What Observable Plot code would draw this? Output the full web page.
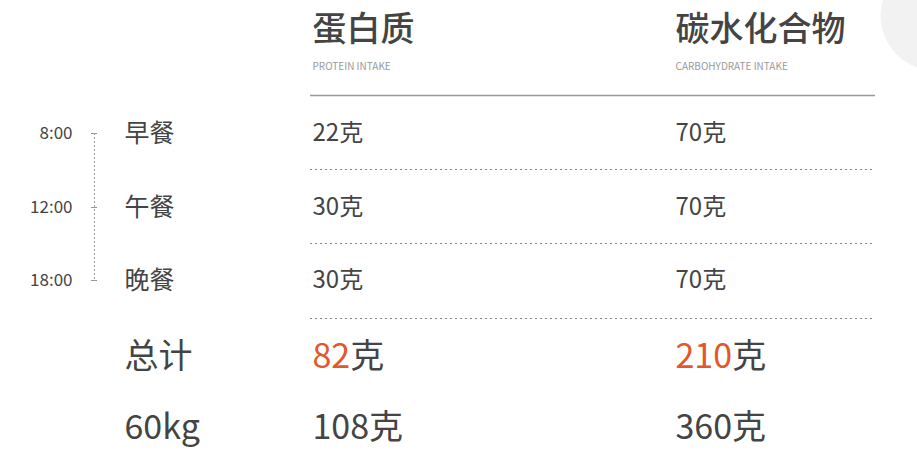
<!DOCTYPE html>
<html><head><meta charset="utf-8">
<script src="https://cdn.jsdelivr.net/npm/d3@7"></script>
<script src="https://cdn.jsdelivr.net/npm/@observablehq/plot@0.6"></script>
<style>body{margin:0;background:#fff;font-family:"Noto Sans CJK SC",sans-serif}</style>
</head><body><div id="c"></div>
<script>
const nutrients = ["蛋白质","碳水化合物"];
const nutrientsEn = ["PROTEIN INTAKE","CARBOHYDRATE INTAKE"];
const meals = ["早餐","午餐","晚餐"];
const times = ["8:00","12:00","18:00"];
const protein = [22,30,30];
const carbs = [70,70,70];
const totals = [82,210];
const targetLabel = "60kg";
const targets = [108,360];

// layout
const colX = [312,675], labelX = 124, timeX = 72, axisX = 94;
const rowY = [133,207,280], totalY = 357, targetY = 428;
const sepY = [169,243,318];
const lineX1 = 310, lineX2 = 875;

const cells = [];
meals.forEach((m,i)=>{
  cells.push({x:colX[0],y:rowY[i],t:protein[i]+"克"});
  cells.push({x:colX[1],y:rowY[i],t:carbs[i]+"克"});
});
const dark="#444";
const plot = Plot.plot({
  width:917,height:458,margin:0,
  x:{domain:[0,917],axis:null},y:{domain:[0,458],axis:null,reverse:true},
  style:{fontFamily:'"Noto Sans CJK SC",sans-serif',background:"transparent"},
  marks:[
    Plot.dot([{x:935,y:15}],{x:"x",y:"y",r:55,fill:"#f2f2f2",stroke:null}),
    Plot.text(nutrients,{x:(d,i)=>colX[i],y:30,text:d=>d,textAnchor:"start",fontSize:34,fill:dark,fontWeight:500}),
    Plot.text(nutrientsEn,{x:(d,i)=>colX[i],y:66,text:d=>d,textAnchor:"start",fontSize:10,fill:"#999",letterSpacing:"2.4px"}),
    Plot.ruleY([95],{x1:lineX1,x2:lineX2,stroke:"#999",strokeWidth:1.5}),
    Plot.ruleY(sepY,{x1:lineX1,x2:lineX2,stroke:"#888",strokeDasharray:"2,3",strokeWidth:1}),
    Plot.ruleX([axisX],{y1:rowY[0],y2:rowY[2],stroke:"#999",strokeDasharray:"2,2"}),
    Plot.ruleY(rowY,{x1:axisX-3,x2:axisX+3,stroke:"#999"}),
    Plot.text(times,{x:timeX,y:(d,i)=>rowY[i],text:d=>d,textAnchor:"end",fontSize:17,fill:dark}),
    Plot.text(meals,{x:labelX,y:(d,i)=>rowY[i],text:d=>d,textAnchor:"start",fontSize:25,fill:dark}),
    Plot.text(cells,{x:"x",y:"y",text:"t",textAnchor:"start",fontSize:24,fill:dark}),
    Plot.text(["总计"],{x:labelX,y:totalY,text:d=>d,textAnchor:"start",fontSize:34,fill:dark}),
    Plot.text(totals,{x:(d,i)=>colX[i],y:totalY,text:d=>d+"克",textAnchor:"start",fontSize:34,fill:dark,className:"tot"}),
    Plot.text([targetLabel],{x:labelX,y:targetY,text:d=>d,textAnchor:"start",fontSize:34,fill:dark}),
    Plot.text(targets,{x:(d,i)=>colX[i],y:targetY,text:d=>d+"克",textAnchor:"start",fontSize:34,fill:dark})
  ]
});
d3.select(plot).selectAll("g.tot text").each(function(){
  const s=this.textContent, n=s.slice(0,-1);
  const t=d3.select(this); t.text("");
  t.append("tspan").attr("fill","#e2572b").text(n);
  t.append("tspan").text("克");
});
document.getElementById("c").appendChild(plot);
</script></body></html>
